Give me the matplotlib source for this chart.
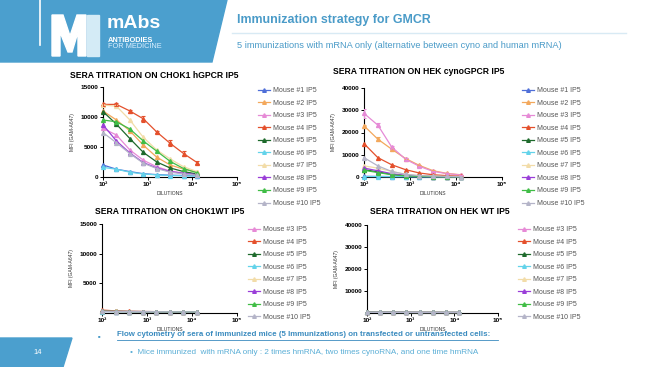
import matplotlib
matplotlib.use("Agg")
import matplotlib.pyplot as plt
from matplotlib.lines import Line2D
from matplotlib.patches import Polygon

plt.rcParams['font.family'] = ['Liberation Sans', 'DejaVu Sans']

W, H = 650, 367

dilutions = [100, 200, 400, 800, 1600, 3200, 6400, 12800]
mouse_labels = ['Mouse #%d IP5' % i for i in range(1, 11)]
mouse_colors = ['#4f6fd8', '#f3a85c', '#e68ad6', '#e4502c', '#1e6a2c',
                '#63d3ea', '#f2dca8', '#9a3ed8', '#40bd46', '#b4b4c8']
xtick_labels = ['10²', '10³', '10⁴', '10⁵']

# MFI values, one row per mouse (#1..#10)
chok1_hgpcr = [
    [2000, 1300, 900, 550, 400, 300, 250, 200],
    [11000, 9500, 7700, 5300, 3300, 2000, 1300, 800],
    [8100, 7000, 4500, 2800, 1700, 1000, 650, 400],
    [12100, 12100, 11000, 9700, 7500, 5600, 3900, 2400],
    [10900, 8800, 6400, 4100, 2500, 1500, 900, 500],
    [1600, 1300, 800, 500, 350, 250, 200, 150],
    [12000, 11800, 9500, 6600, 4500, 3000, 1700, 900],
    [8700, 6000, 4000, 2400, 1500, 900, 600, 400],
    [9500, 9200, 8000, 6000, 4300, 2600, 1400, 700],
    [7400, 5700, 3900, 2300, 1400, 800, 500, 300],
]
chok1_hgpcr_err4 = [300, 200, 250, 500, 200, 500, 400, 300]

hek_cyno = [
    [300, 250, 200, 200, 150, 150, 100, 100],
    [23000, 17000, 12500, 8300, 5200, 2800, 1600, 1000],
    [28600, 23300, 13500, 8000, 4800, 2500, 1500, 900],
    [15000, 8700, 5500, 3300, 1800, 1000, 600, 400],
    [3300, 2300, 1200, 600, 300, 200, 150, 100],
    [200, 200, 150, 150, 100, 100, 100, 100],
    [5000, 4000, 2500, 1200, 600, 300, 200, 100],
    [4000, 2800, 1500, 700, 350, 200, 150, 100],
    [3000, 2000, 1000, 500, 300, 200, 100, 100],
    [8700, 5000, 2500, 1200, 600, 400, 300, 200],
]
hek_cyno_err2 = [300, 800, 600, 300, 200, 150, 100, 100]
hek_cyno_err3 = [1900, 900, 500, 400, 300, 200, 100, 100]

# untransfected cells, mice #3..#10
chok1_wt = [
    [300, 280, 250, 250, 230, 220, 210, 200],
    [500, 350, 280, 250, 230, 220, 210, 200],
    [300, 270, 250, 240, 230, 220, 210, 200],
    [250, 240, 230, 220, 210, 200, 200, 200],
    [280, 260, 240, 230, 220, 210, 200, 200],
    [260, 250, 240, 230, 220, 210, 200, 200],
    [270, 250, 240, 230, 220, 210, 200, 200],
    [260, 250, 240, 230, 220, 210, 200, 200],
]
hek_wt = [
    [300, 280, 270, 260, 250, 250, 240, 240],
    [350, 300, 280, 270, 260, 250, 240, 240],
    [300, 280, 270, 260, 250, 250, 240, 240],
    [280, 270, 260, 250, 250, 240, 240, 240],
    [300, 290, 280, 270, 260, 300, 250, 240],
    [320, 300, 290, 280, 270, 260, 250, 250],
    [300, 280, 270, 260, 250, 250, 240, 240],
    [300, 280, 270, 260, 250, 250, 240, 240],
]

blue = '#4b9fce'
text_blue = '#4a9bc8'


def px(x, y):
    return x / W, 1 - y / H


def panel(fig, box, title, title_xy, rows, idx, ymax, yticks, legend_xy, errs=None):
    left, top, right, bottom = box
    ax = fig.add_axes([left / W, 1 - bottom / H, (right - left) / W, (bottom - top) / H])
    for row, i in zip(rows, idx):
        ax.plot(dilutions, row, color=mouse_colors[i], marker='^', ms=2.8, lw=0.9,
                clip_on=False, zorder=3)
    if errs:
        for i, e in errs.items():
            row = rows[idx.index(i)]
            ax.errorbar(dilutions, row, yerr=e, fmt='none', ecolor=mouse_colors[i],
                        elinewidth=0.8, capsize=1.5, capthick=0.8, zorder=3)
    ax.set_xscale('log')
    ax.set_xlim(100, 1e5)
    ax.set_ylim(0, ymax)
    ax.set_xticks([1e2, 1e3, 1e4, 1e5])
    ax.set_xticklabels(xtick_labels, fontsize=4.6, fontweight='bold')
    ax.minorticks_off()
    ax.set_yticks(yticks)
    ax.set_yticklabels([str(v) for v in yticks], fontsize=4.6, fontweight='bold')
    ax.tick_params(length=2, width=0.7, pad=1.5)
    for s in ['top', 'right']:
        ax.spines[s].set_visible(False)
    for s in ['left', 'bottom']:
        ax.spines[s].set_linewidth(0.8)
    ax.set_xlabel('DILUTIONS', fontsize=3.6, color='#333333', labelpad=3)
    ax.set_ylabel('MFI (GAM-A647)', fontsize=3.6, color='#333333')
    ax.yaxis.set_label_coords(left / W - 28 / W, 1 - (top + bottom) / 2 / H,
                              transform=fig.transFigure)
    fig.text(*px(*title_xy), title, fontsize=6.2, fontweight='bold', va='center', ha='left')
    handles = [Line2D([], [], color=mouse_colors[i], marker='^', ms=2.6, lw=0.9) for i in idx]
    labels = [mouse_labels[i] for i in idx]
    ax.legend(handles, labels, loc='upper left', bbox_to_anchor=px(*legend_xy),
              bbox_transform=fig.transFigure, frameon=False, fontsize=5,
              handlelength=1.7, handletextpad=0.45, labelspacing=0.8,
              borderpad=0, borderaxespad=0, labelcolor='#555555')
    return ax


fig = plt.figure(figsize=(W / 100, H / 100), dpi=100)

# header band and logo
fig.patches.append(Polygon([px(0, 0), px(227, 0), px(212, 62), px(0, 62)],
                           closed=True, transform=fig.transFigure, color=blue, zorder=0))
fig.add_artist(Line2D([40 / W, 40 / W], [1, 1 - 45 / H], color='white', lw=1.2,
                      transform=fig.transFigure))
m_shape = [(52, 15), (63, 15), (70, 36), (77, 15), (86, 15), (86, 56), (78, 56),
           (78, 32), (72, 52), (68, 52), (60, 32), (60, 56), (52, 56)]
fig.patches.append(Polygon([px(*p) for p in m_shape], closed=True,
                           transform=fig.transFigure, color='white', zorder=1))
fig.patches.append(Polygon([px(87, 15), px(99, 15), px(99, 56), px(87, 56)], closed=True,
                           transform=fig.transFigure, color='#d4ebf6', zorder=1))
fig.text(*px(107, 24), 'mAbs', color='white', fontsize=14, fontweight='bold', va='center')
fig.text(*px(108, 40), 'ANTIBODIES', color='white', fontsize=5.3, fontweight='bold', va='center')
fig.text(*px(108, 47), 'FOR MEDICINE', color='#dcefff', fontsize=5.3, va='center')

fig.text(*px(237, 20), 'Immunization strategy for GMCR', color=text_blue, fontsize=8.9,
         fontweight='bold', va='center')
fig.add_artist(Line2D([232 / W, 626 / W], [1 - 33 / H] * 2, color='#d8eaf4', lw=1,
                      transform=fig.transFigure))
fig.text(*px(237, 46), '5 immunizations with mRNA only (alternative between cyno and human mRNA)',
         color=text_blue, fontsize=6.7, va='center')

# footer
fig.patches.append(Polygon([px(0, 338), px(72, 338), px(63, 367), px(0, 367)],
                           closed=True, transform=fig.transFigure, color=blue, zorder=0))
fig.text(*px(38, 352), '14', color='white', fontsize=5.5, va='center', ha='center')
fig.text(*px(99, 336), '■', color=text_blue, fontsize=3, va='center', ha='center')
fig.text(*px(117, 335), 'Flow cytometry of sera of immunized mice (5 Immunizations) on transfected or untransfected cells:',
         color='#3a8bbf', fontsize=5.7, fontweight='bold', va='center')
fig.add_artist(Line2D([117 / W, 498 / W], [1 - 339.5 / H] * 2, color='#3a8bbf', lw=0.6,
                      transform=fig.transFigure))
fig.text(*px(130, 353), '•  Mice immunized  with mRNA only : 2 times hmRNA, two times cynoRNA, and one time hmRNA',
         color='#5aaed6', fontsize=5.9, va='center')

all10 = list(range(10))
wt_idx = list(range(2, 10))

panel(fig, (103, 87, 237, 177), 'SERA TITRATION ON CHOK1 hGPCR IP5', (70, 75),
      chok1_hgpcr, all10, 15000, [0, 5000, 10000, 15000], (258, 87),
      errs={3: chok1_hgpcr_err4})
panel(fig, (364, 88, 502, 177), 'SERA TITRATION ON HEK cynoGPCR IP5', (333, 72),
      hek_cyno, all10, 40000, [0, 10000, 20000, 30000, 40000], (522, 87),
      errs={1: hek_cyno_err2, 2: hek_cyno_err3})
panel(fig, (102, 224, 237, 313), 'SERA TITRATION ON CHOK1WT IP5', (95, 211),
      chok1_wt, wt_idx, 15000, [5000, 10000, 15000], (248, 226))
panel(fig, (367, 225, 498, 313), 'SERA TITRATION ON HEK WT IP5', (370, 211),
      hek_wt, wt_idx, 40000, [10000, 20000, 30000, 40000], (518, 226))

fig.savefig('out.png', dpi=100)
